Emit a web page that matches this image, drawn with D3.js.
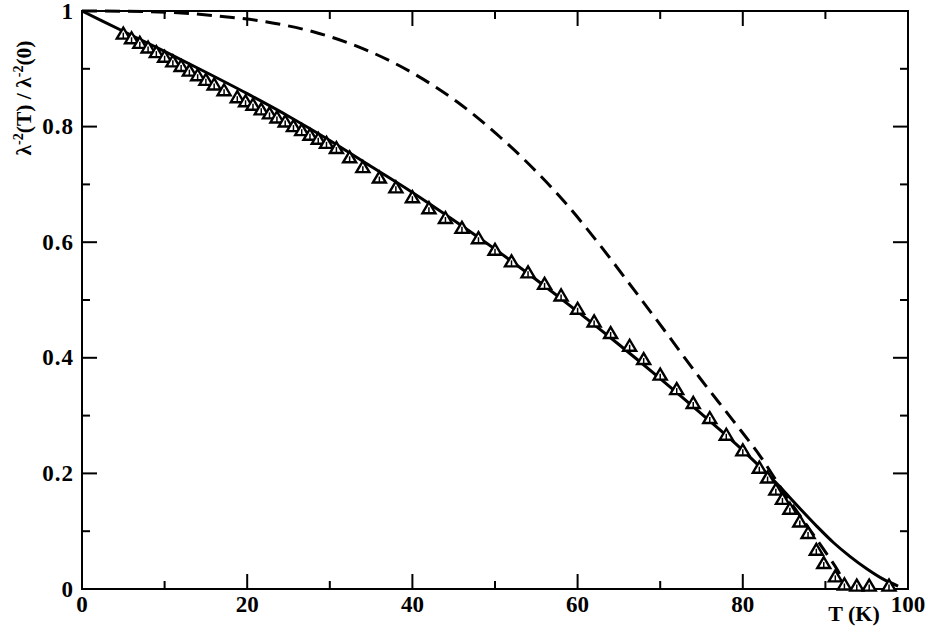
<!DOCTYPE html>
<html><head><meta charset="utf-8">
<script src="https://cdn.jsdelivr.net/npm/d3@7"></script>
<style>body{margin:0;background:#fff}svg{display:block}</style>
</head><body>
<svg id="c" width="928" height="638"></svg>
<script>
// measured data (triangles)
const dataT = [5,6,7,8,9,10,11,12,13,14,15,16,17.2,18.8,19.8,20.7,21.7,22.7,23.6,24.6,25.6,26.6,27.6,28.6,29.6,30.8,32.4,34,36,38,40,42,44,46,48,50,52,54,56,58,60,62,64,66.3,68,70,72,74,76,78,80,82,83,84,84.8,85.7,86.9,87.9,88.9,89.8,91.2,92.3,93.8,95.3,97.7];
const dataY = [0.960,0.952,0.944,0.936,0.928,0.920,0.912,0.904,0.896,0.888,0.880,0.872,0.862,0.850,0.843,0.837,0.829,0.822,0.815,0.808,0.800,0.793,0.785,0.778,0.771,0.762,0.746,0.729,0.711,0.694,0.677,0.658,0.641,0.624,0.606,0.586,0.566,0.547,0.527,0.507,0.484,0.462,0.442,0.420,0.397,0.370,0.345,0.321,0.295,0.266,0.239,0.209,0.192,0.171,0.155,0.138,0.116,0.096,0.067,0.044,0.021,0.007,0.005,0.005,0.005];
// solid curve
const solidT = [0,5,10,15,20,25,30,35,40,45,50,55,60,65,70,75,80,84,87,89,91,93,95,97,98.8];
const solidY = [1.000,0.965,0.930,0.894,0.857,0.818,0.776,0.731,0.686,0.638,0.588,0.535,0.480,0.423,0.364,0.303,0.240,0.184,0.138,0.108,0.080,0.056,0.035,0.017,0.005];
// dashed curve
const dashT = [0,8,16,22.4,28,34,40,45.4,50.6,54.6,58.7,62.7,66.7,70.8,74.8,78.9,82.1,85.3,88,90.2,91.5,92.5];
const dashY = [1.000,0.999,0.992,0.981,0.964,0.935,0.893,0.843,0.782,0.728,0.665,0.595,0.520,0.442,0.365,0.290,0.230,0.160,0.105,0.060,0.032,0.005];
const xTicks = [0,20,40,60,80,100];
const xMinor = [10,30,50,70,90];
const yTicks = [0,0.2,0.4,0.6,0.8,1];
const yMinor = [0.1,0.3,0.5,0.7,0.9];
const yTickLabels = ["0","0.2","0.4","0.6","0.8","1"];

const svg = d3.select("#c");
const L=82, R=908, T=11, B=589;
const x = d3.scaleLinear().domain([0,100]).range([L,R]);
const y = d3.scaleLinear().domain([0,1]).range([B,T]);
const font = "'Liberation Serif','Times New Roman',serif";

// frame
svg.append("rect").attr("x",L).attr("y",T).attr("width",R-L).attr("height",B-T)
  .attr("fill","none").attr("stroke","#000").attr("stroke-width",2);

// ticks (inward, all sides)
const tk = svg.append("g").attr("stroke","#000").attr("stroke-width",2);
function xt(v,len){
  tk.append("line").attr("x1",x(v)).attr("x2",x(v)).attr("y1",B).attr("y2",B-len);
  tk.append("line").attr("x1",x(v)).attr("x2",x(v)).attr("y1",T).attr("y2",T+len);
}
function yt(v,len){
  tk.append("line").attr("y1",y(v)).attr("y2",y(v)).attr("x1",L).attr("x2",L+len);
  tk.append("line").attr("y1",y(v)).attr("y2",y(v)).attr("x1",R).attr("x2",R-len);
}
xTicks.forEach(v=>xt(v,15)); xMinor.forEach(v=>xt(v,8));
yTicks.forEach(v=>yt(v,15)); yMinor.forEach(v=>yt(v,8));

// tick labels
svg.append("g").selectAll("text").data(xTicks).join("text")
  .attr("x",d=>x(d)).attr("y",612).attr("text-anchor","middle")
  .attr("font-family",font).attr("font-weight","bold").attr("font-size",23)
  .text(d=>d);
svg.append("g").selectAll("text").data(yTicks).join("text")
  .attr("x",74).attr("y",d=>y(d)+7.5).attr("text-anchor","end")
  .attr("font-family",font).attr("font-weight","bold").attr("font-size",23)
  .attr("letter-spacing",1)
  .text((d,i)=>yTickLabels[i]);

// axis titles
svg.append("text").attr("x",854).attr("y",621).attr("text-anchor","middle")
  .attr("font-family",font).attr("font-weight","bold").attr("font-size",22).text("T (K)");
const yl = svg.append("text").attr("transform","translate(31,98) rotate(-90)")
  .attr("text-anchor","middle").attr("font-family",font).attr("font-weight","bold").attr("font-size",21.5);
yl.append("tspan").text("λ");
yl.append("tspan").attr("dy",-8).attr("font-size",14).text("-2");
yl.append("tspan").attr("dy",8).text("(T) / λ");
yl.append("tspan").attr("dy",-8).attr("font-size",14).text("-2");
yl.append("tspan").attr("dy",8).text("(0)");

// curves
const line = d3.line().x(d=>x(d[0])).y(d=>y(d[1])).curve(d3.curveMonotoneX);
svg.append("path").attr("d",line(solidT.map((t,i)=>[t,solidY[i]])))
  .attr("fill","none").attr("stroke","#000").attr("stroke-width",3);
svg.append("path").attr("d",line(dashT.map((t,i)=>[t,dashY[i]])))
  .attr("fill","none").attr("stroke","#000").attr("stroke-width",3)
  .attr("stroke-dasharray","15,8");

// triangles with small error bars
const pts = dataT.map((t,i)=>[t,dataY[i]]);
const g = svg.append("g");
const tri = "M0,-6.5L6.5,4.5L-6.5,4.5Z";
const sym = g.selectAll("g").data(pts).join("g")
  .attr("transform",d=>`translate(${x(d[0])},${y(d[1])})`);
sym.append("path").attr("d",tri).attr("fill","#fff").attr("stroke","#000").attr("stroke-width",2.4);
sym.append("line").attr("x1",0).attr("x2",0).attr("y1",-1.5).attr("y2",4)
  .attr("stroke","#000").attr("stroke-width",1.5);
</script>
</body></html>
